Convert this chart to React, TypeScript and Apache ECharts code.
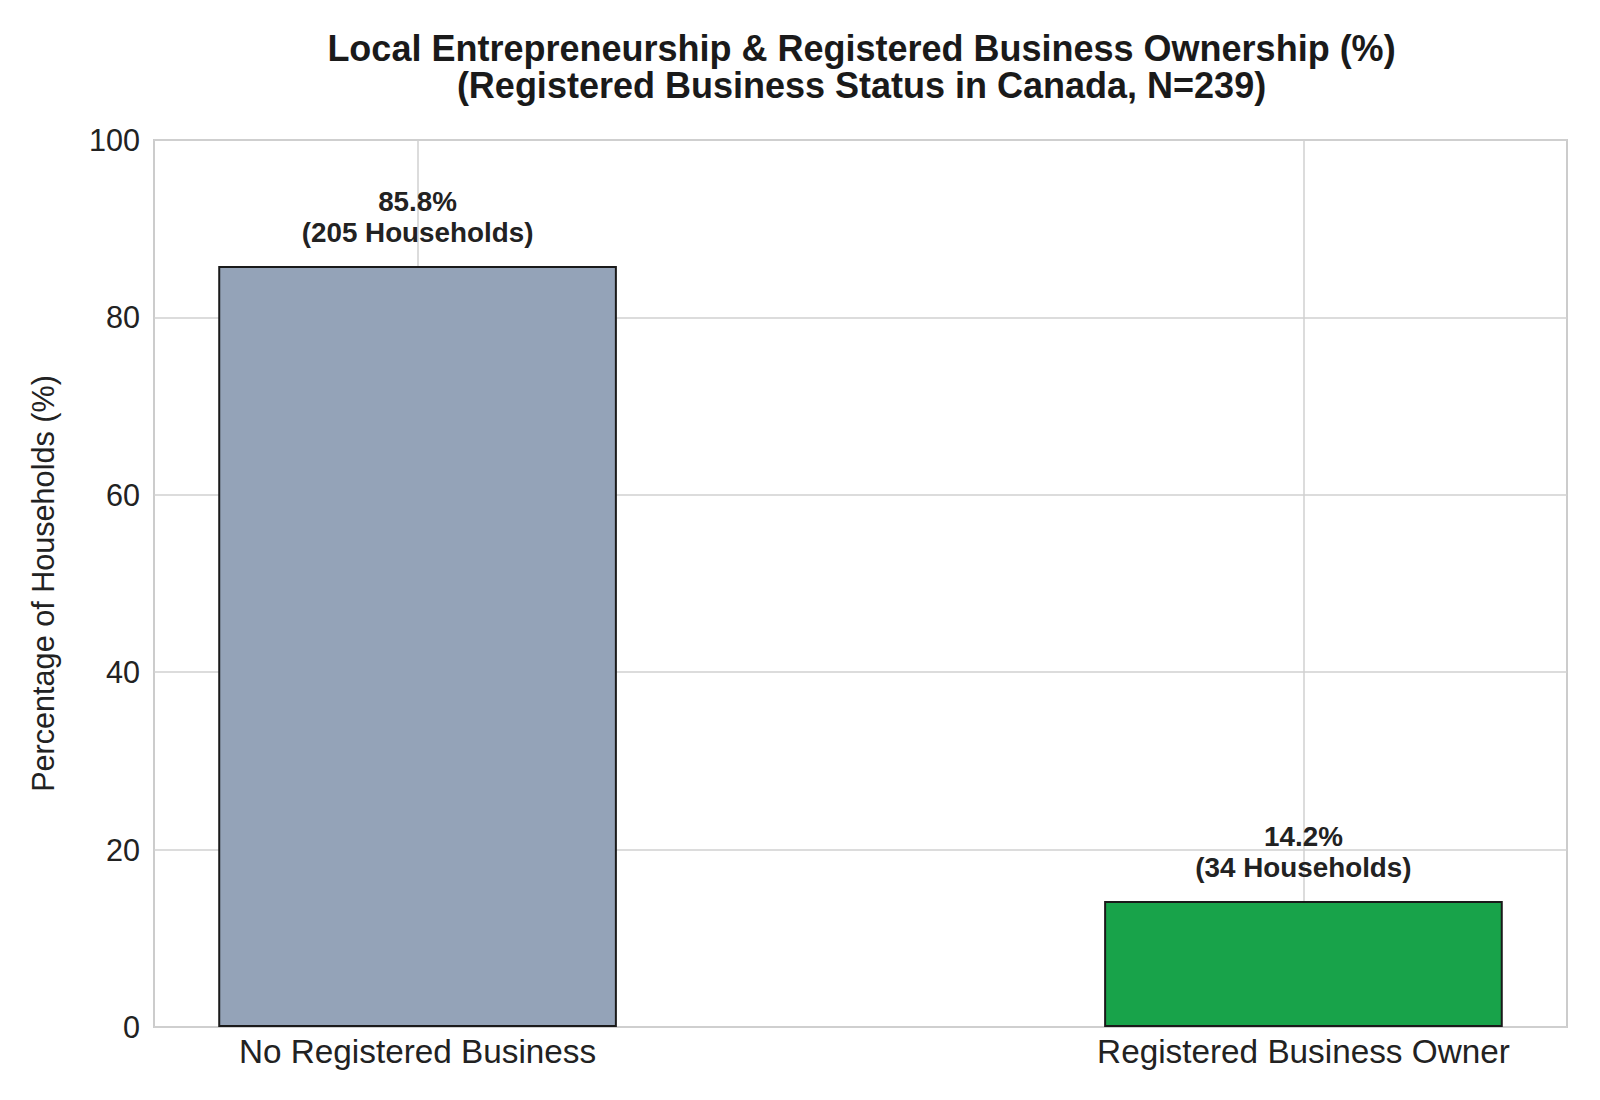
import { useEffect, useRef } from 'react'
import * as echarts from 'echarts'

const categories = ['No Registered Business', 'Registered Business Owner']
const percentages = [85.8, 14.2]
const households = [205, 34]
const barColors = ['#94a3b8', '#18a34a']
const yTicks = { min: 0, max: 100, interval: 20 }

// matplotlib-like x limits: bars at 0 and 1, width 0.45, 5% margins
const BAR_WIDTH = 0.45
const X_MIN = -0.2975
const X_MAX = 1.2975

const FONT = "'Liberation Sans', Arial, sans-serif"
const GRID = { left: 154, top: 140, right: 33, bottom: 73 }
const CHART_W = 1600
const CHART_H = 1100

function App() {
  const chartRef = useRef<HTMLDivElement>(null)

  useEffect(() => {
    if (!chartRef.current) return
    const chart = echarts.init(chartRef.current, undefined, { renderer: 'svg' })

    const plotWidth = CHART_W - GRID.left - GRID.right
    const barPx = (BAR_WIDTH / (X_MAX - X_MIN)) * plotWidth

    const option: echarts.EChartsOption = {
      animation: false,
      backgroundColor: '#ffffff',
      textStyle: { fontFamily: FONT },
      title: {
        text: 'Local Entrepreneurship & Registered Business Ownership (%)\n(Registered Business Status in Canada, N=239)',
        left: GRID.left + plotWidth / 2 - 4,
        textAlign: 'center',
        top: 25,
        textStyle: {
          fontFamily: FONT,
          fontSize: 36,
          fontWeight: 'bold',
          lineHeight: 37,
          color: '#1a1a1a',
        },
      },
      grid: {
        ...GRID,
        show: true,
        borderColor: '#cccccc',
        borderWidth: 2,
        outerBoundsMode: 'none',
      } as any,
      xAxis: {
        type: 'value',
        min: X_MIN,
        max: X_MAX,
        axisLine: { show: false },
        axisTick: { show: false, customValues: [0, 1] } as any,
        axisLabel: {
          customValues: [0, 1],
          formatter: (v: number) => categories[Math.round(v)] ?? '',
          fontSize: 33.3,
          color: '#222222',
          margin: 8,
          fontFamily: FONT,
        } as any,
        splitLine: { show: true, lineStyle: { color: '#d0d0d0', width: 1.5 } },
      },
      yAxis: {
        type: 'value',
        min: yTicks.min,
        max: yTicks.max,
        interval: yTicks.interval,
        name: 'Percentage of Households (%)',
        nameLocation: 'middle',
        nameGap: 96,
        nameTextStyle: { fontSize: 30.6, color: '#222222', fontFamily: FONT },
        axisLine: { show: false },
        axisTick: { show: false },
        axisLabel: { fontSize: 30.6, color: '#222222', margin: 14, fontFamily: FONT },
        splitLine: { show: true, lineStyle: { color: '#d0d0d0', width: 1.5 } },
      },
      series: [
        {
          type: 'bar',
          barWidth: barPx,
          data: percentages.map((p, i) => ({
            value: [i, p],
            itemStyle: { color: barColors[i], borderColor: '#1a1a1a', borderWidth: 2 },
          })),
          label: {
            show: true,
            position: 'top',
            distance: 18,
            formatter: (params: any) =>
              `${percentages[params.dataIndex].toFixed(1)}%\n(${households[params.dataIndex]} Households)`,
            fontSize: 27.8,
            fontWeight: 'bold',
            lineHeight: 31,
            color: '#222222',
            fontFamily: FONT,
          },
        },
      ],
    }

    chart.setOption(option)
    return () => {
      chart.dispose()
    }
  }, [])

  return (
    <div
      ref={chartRef}
      style={{
        position: 'absolute',
        left: 0,
        top: 0,
        width: `${CHART_W}px`,
        height: `${CHART_H}px`,
      }}
    />
  )
}

export default App
